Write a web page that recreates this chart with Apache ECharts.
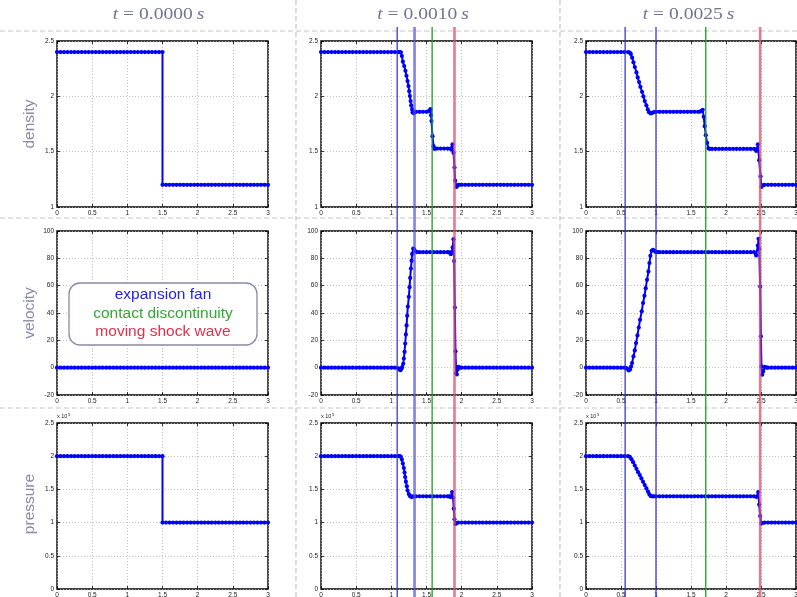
<!DOCTYPE html>
<html>
<head>
<meta charset="utf-8">
<script src="https://cdn.jsdelivr.net/npm/echarts@6/dist/echarts.min.js"></script>
<style>
html,body{margin:0;padding:0;background:#fff;}
#chart{width:797px;height:597px;}
</style>
</head>
<body>
<div id="chart"></div>
<script>
// ---------------- data: shock tube solution snapshots ----------------
const timeLabels = ['0.0000', '0.0010', '0.0025'];
const rowNames = ['density', 'velocity', 'pressure'];
const legendLines = ['expansion fan', 'contact discontinuity', 'moving shock wave'];

const xTicks = [0, 0.5, 1, 1.5, 2, 2.5, 3];
const densityTicks = [1, 1.5, 2, 2.5];
const velocityTicks = [-20, 0, 20, 40, 60, 80, 100];
const pressureTicks = [0, 0.5, 1, 1.5, 2, 2.5]; // units of 10^5

// wave positions: [fan head, fan tail, contact, shock]
const waves_t0010 = [1.083, 1.330, 1.580, 1.898];
const waves_t0025 = [0.559, 1.000, 1.711, 2.488];

const density_t0000 = [
  [0,2.4],[0.05,2.4],[0.1,2.4],[0.15,2.4],[0.2,2.4],[0.25,2.4],[0.3,2.4],[0.35,2.4],[0.4,2.4],[0.45,2.4],
  [0.5,2.4],[0.55,2.4],[0.6,2.4],[0.65,2.4],[0.7,2.4],[0.75,2.4],[0.8,2.4],[0.85,2.4],[0.9,2.4],[0.95,2.4],
  [1,2.4],[1.05,2.4],[1.1,2.4],[1.15,2.4],[1.2,2.4],[1.25,2.4],[1.3,2.4],[1.35,2.4],[1.4,2.4],[1.45,2.4],[1.5,2.4],
  [1.5,1.2],[1.55,1.2],[1.6,1.2],[1.65,1.2],[1.7,1.2],[1.75,1.2],[1.8,1.2],[1.85,1.2],[1.9,1.2],[1.95,1.2],
  [2,1.2],[2.05,1.2],[2.1,1.2],[2.15,1.2],[2.2,1.2],[2.25,1.2],[2.3,1.2],[2.35,1.2],[2.4,1.2],[2.45,1.2],
  [2.5,1.2],[2.55,1.2],[2.6,1.2],[2.65,1.2],[2.7,1.2],[2.75,1.2],[2.8,1.2],[2.85,1.2],[2.9,1.2],[2.95,1.2],[3,1.2]
];
const velocity_t0000 = [
  [0,0],[0.05,0],[0.1,0],[0.15,0],[0.2,0],[0.25,0],[0.3,0],[0.35,0],[0.4,0],[0.45,0],
  [0.5,0],[0.55,0],[0.6,0],[0.65,0],[0.7,0],[0.75,0],[0.8,0],[0.85,0],[0.9,0],[0.95,0],
  [1,0],[1.05,0],[1.1,0],[1.15,0],[1.2,0],[1.25,0],[1.3,0],[1.35,0],[1.4,0],[1.45,0],
  [1.5,0],[1.55,0],[1.6,0],[1.65,0],[1.7,0],[1.75,0],[1.8,0],[1.85,0],[1.9,0],[1.95,0],
  [2,0],[2.05,0],[2.1,0],[2.15,0],[2.2,0],[2.25,0],[2.3,0],[2.35,0],[2.4,0],[2.45,0],
  [2.5,0],[2.55,0],[2.6,0],[2.65,0],[2.7,0],[2.75,0],[2.8,0],[2.85,0],[2.9,0],[2.95,0],[3,0]
];
const pressure_t0000 = [
  [0,2],[0.05,2],[0.1,2],[0.15,2],[0.2,2],[0.25,2],[0.3,2],[0.35,2],[0.4,2],[0.45,2],
  [0.5,2],[0.55,2],[0.6,2],[0.65,2],[0.7,2],[0.75,2],[0.8,2],[0.85,2],[0.9,2],[0.95,2],
  [1,2],[1.05,2],[1.1,2],[1.15,2],[1.2,2],[1.25,2],[1.3,2],[1.35,2],[1.4,2],[1.45,2],[1.5,2],
  [1.5,1],[1.55,1],[1.6,1],[1.65,1],[1.7,1],[1.75,1],[1.8,1],[1.85,1],[1.9,1],[1.95,1],
  [2,1],[2.05,1],[2.1,1],[2.15,1],[2.2,1],[2.25,1],[2.3,1],[2.35,1],[2.4,1],[2.45,1],
  [2.5,1],[2.55,1],[2.6,1],[2.65,1],[2.7,1],[2.75,1],[2.8,1],[2.85,1],[2.9,1],[2.95,1],[3,1]
];

const density_t0010 = [
  [0,2.4],[0.05,2.4],[0.1,2.4],[0.15,2.4],[0.2,2.4],[0.25,2.4],[0.3,2.4],[0.35,2.4],[0.4,2.4],[0.45,2.4],
  [0.5,2.4],[0.55,2.4],[0.6,2.4],[0.65,2.4],[0.7,2.4],[0.75,2.4],[0.8,2.4],[0.85,2.4],[0.9,2.4],[0.95,2.4],
  [1,2.4],[1.05,2.4],[1.1,2.4],
  [1.12,2.4],[1.136,2.398],[1.15,2.364],[1.164,2.313],[1.183,2.274],[1.201,2.231],[1.215,2.186],[1.23,2.138],
  [1.244,2.093],[1.254,2.047],[1.264,2.002],[1.274,1.957],[1.282,1.918],[1.296,1.882],[1.302,1.855],[1.32,1.848],[1.335,1.858],
  [1.35,1.86],[1.4,1.86],[1.45,1.86],[1.5,1.86],[1.53,1.865],[1.545,1.874],[1.557,1.884],
  [1.565,1.83],[1.571,1.776],[1.585,1.64],[1.6,1.55],[1.614,1.525],
  [1.65,1.528],[1.7,1.528],[1.75,1.528],[1.8,1.528],[1.84,1.526],[1.856,1.519],[1.87,1.565],
  [1.884,1.49],[1.898,1.357],[1.907,1.239],[1.927,1.181],[1.945,1.196],
  [1.96,1.2],[2,1.2],[2.05,1.2],[2.1,1.2],[2.15,1.2],[2.2,1.2],[2.25,1.2],[2.3,1.2],[2.35,1.2],[2.4,1.2],[2.45,1.2],
  [2.5,1.2],[2.55,1.2],[2.6,1.2],[2.65,1.2],[2.7,1.2],[2.75,1.2],[2.8,1.2],[2.85,1.2],[2.9,1.2],[2.95,1.2],[3,1.2]
];
const velocity_t0010 = [
  [0,0],[0.05,0],[0.1,0],[0.15,0],[0.2,0],[0.25,0],[0.3,0],[0.35,0],[0.4,0],[0.45,0],
  [0.5,0],[0.55,0],[0.6,0],[0.65,0],[0.7,0],[0.75,0],[0.8,0],[0.85,0],[0.9,0],[0.95,0],
  [1,0],[1.05,0],
  [1.1,-0.5],[1.115,-1.3],[1.13,-1.8],[1.145,-0.6],[1.154,0.4],[1.169,2.8],[1.178,6.7],[1.188,11.6],[1.197,17.7],
  [1.207,24.3],[1.217,30.9],[1.225,38],[1.235,44.7],[1.249,51.8],[1.259,58.9],[1.268,65.7],[1.278,72.5],[1.288,78.3],
  [1.296,83.2],[1.311,87.1],[1.325,86.6],[1.339,85.2],[1.36,84.6],
  [1.4,84.5],[1.45,84.5],[1.5,84.5],[1.55,84.5],[1.6,84.5],[1.65,84.5],[1.7,84.5],[1.75,84.5],[1.8,84.5],
  [1.83,84.3],[1.846,83],[1.862,84.5],[1.872,88],[1.884,94],[1.893,78],[1.903,44],[1.912,12],[1.922,-4],[1.931,-5],
  [1.942,-1.5],[1.955,0.6],[1.97,0],
  [2,0],[2.05,0],[2.1,0],[2.15,0],[2.2,0],[2.25,0],[2.3,0],[2.35,0],[2.4,0],[2.45,0],
  [2.5,0],[2.55,0],[2.6,0],[2.65,0],[2.7,0],[2.75,0],[2.8,0],[2.85,0],[2.9,0],[2.95,0],[3,0]
];
const pressure_t0010 = [
  [0,2],[0.05,2],[0.1,2],[0.15,2],[0.2,2],[0.25,2],[0.3,2],[0.35,2],[0.4,2],[0.45,2],
  [0.5,2],[0.55,2],[0.6,2],[0.65,2],[0.7,2],[0.75,2],[0.8,2],[0.85,2],[0.9,2],[0.95,2],
  [1,2],[1.05,2],[1.1,2],
  [1.122,2],[1.136,1.99],[1.15,1.949],[1.164,1.889],[1.178,1.822],[1.188,1.753],[1.197,1.687],[1.207,1.617],
  [1.221,1.547],[1.231,1.482],[1.249,1.431],[1.262,1.405],[1.274,1.392],[1.292,1.386],[1.31,1.394],
  [1.35,1.395],[1.4,1.395],[1.45,1.395],[1.5,1.395],[1.55,1.395],[1.6,1.395],[1.65,1.395],[1.7,1.395],[1.75,1.395],[1.8,1.395],
  [1.825,1.394],[1.842,1.386],[1.864,1.461],[1.878,1.377],[1.888,1.21],[1.898,1.05],[1.912,0.979],[1.927,0.994],[1.95,1],
  [2,1],[2.05,1],[2.1,1],[2.15,1],[2.2,1],[2.25,1],[2.3,1],[2.35,1],[2.4,1],[2.45,1],
  [2.5,1],[2.55,1],[2.6,1],[2.65,1],[2.7,1],[2.75,1],[2.8,1],[2.85,1],[2.9,1],[2.95,1],[3,1]
];

const density_t0025 = [
  [0,2.4],[0.05,2.4],[0.1,2.4],[0.15,2.4],[0.2,2.4],[0.25,2.4],[0.3,2.4],[0.35,2.4],[0.4,2.4],[0.45,2.4],
  [0.5,2.4],[0.55,2.4],[0.6,2.4],
  [0.625,2.395],[0.64,2.383],[0.659,2.349],[0.678,2.307],[0.697,2.265],[0.721,2.216],[0.739,2.171],[0.758,2.129],
  [0.777,2.086],[0.801,2.041],[0.82,1.999],[0.839,1.957],[0.863,1.918],[0.882,1.882],[0.9,1.857],[0.924,1.845],
  [0.948,1.851],[0.97,1.858],
  [1,1.86],[1.05,1.86],[1.1,1.86],[1.15,1.86],[1.2,1.86],[1.25,1.86],[1.3,1.86],[1.35,1.86],[1.4,1.86],[1.45,1.86],
  [1.5,1.86],[1.55,1.86],[1.6,1.86],[1.63,1.862],[1.65,1.868],[1.668,1.878],
  [1.682,1.815],[1.696,1.73],[1.711,1.649],[1.73,1.58],[1.749,1.529],[1.77,1.525],
  [1.8,1.525],[1.85,1.525],[1.9,1.525],[1.95,1.525],[2,1.525],[2.05,1.525],[2.1,1.525],[2.15,1.525],[2.2,1.525],
  [2.25,1.525],[2.3,1.525],[2.35,1.525],[2.4,1.525],[2.42,1.522],
  [2.432,1.507],[2.456,1.567],[2.474,1.423],[2.493,1.278],[2.507,1.181],[2.531,1.199],[2.55,1.2],
  [2.6,1.2],[2.65,1.2],[2.7,1.2],[2.75,1.2],[2.8,1.2],[2.85,1.2],[2.9,1.2],[2.95,1.2],[3,1.2]
];
const velocity_t0025 = [
  [0,0],[0.05,0],[0.1,0],[0.15,0],[0.2,0],[0.25,0],[0.3,0],[0.35,0],[0.4,0],[0.45,0],
  [0.5,0],[0.55,0],
  [0.575,-0.3],[0.59,-0.8],[0.611,-2],[0.63,-1.3],[0.644,0.8],[0.658,3.4],[0.678,8.2],[0.697,12.6],[0.715,18],
  [0.735,23.6],[0.754,29.4],[0.772,35],[0.796,41.2],[0.815,47.3],[0.835,52.6],[0.853,58.2],[0.872,64.3],[0.892,70.4],
  [0.906,76.5],[0.92,81.8],[0.938,85.5],[0.957,86.2],[0.977,85.5],[0.995,84.7],[1.02,84.5],
  [1.05,84.5],[1.1,84.5],[1.15,84.5],[1.2,84.5],[1.25,84.5],[1.3,84.5],[1.35,84.5],[1.4,84.5],[1.45,84.5],[1.5,84.5],
  [1.55,84.5],[1.6,84.5],[1.65,84.5],[1.7,84.5],[1.75,84.5],[1.8,84.5],[1.85,84.5],[1.9,84.5],[1.95,84.5],[2,84.5],
  [2.05,84.5],[2.1,84.5],[2.15,84.5],[2.2,84.5],[2.25,84.5],[2.3,84.5],[2.35,84.5],[2.4,84.5],
  [2.431,82.1],[2.455,89.4],[2.465,94.3],[2.475,87],[2.488,59.4],[2.498,22.9],[2.507,0.9],[2.517,-5.2],[2.531,-2.8],
  [2.555,0.6],[2.58,0],
  [2.6,0],[2.65,0],[2.7,0],[2.75,0],[2.8,0],[2.85,0],[2.9,0],[2.95,0],[3,0]
];
const pressure_t0025 = [
  [0,2],[0.05,2],[0.1,2],[0.15,2],[0.2,2],[0.25,2],[0.3,2],[0.35,2],[0.4,2],[0.45,2],
  [0.5,2],[0.55,2],[0.6,2],
  [0.626,1.99],[0.65,1.955],[0.673,1.91],[0.697,1.86],[0.721,1.81],[0.744,1.76],[0.768,1.715],[0.792,1.665],
  [0.815,1.615],[0.839,1.565],[0.863,1.515],[0.886,1.465],[0.906,1.425],[0.924,1.4],[0.948,1.395],[0.97,1.395],
  [1,1.395],[1.05,1.395],[1.1,1.395],[1.15,1.395],[1.2,1.395],[1.25,1.395],[1.3,1.395],[1.35,1.395],[1.4,1.395],
  [1.45,1.395],[1.5,1.395],[1.55,1.395],[1.6,1.395],[1.65,1.395],[1.7,1.395],[1.75,1.395],[1.8,1.395],[1.85,1.395],
  [1.9,1.395],[1.95,1.395],[2,1.395],[2.05,1.395],[2.1,1.395],[2.15,1.395],[2.2,1.395],[2.25,1.395],[2.3,1.395],
  [2.35,1.395],[2.4,1.395],
  [2.436,1.386],[2.46,1.461],[2.474,1.271],[2.488,1.099],[2.503,0.985],[2.522,0.994],[2.55,1],
  [2.6,1],[2.65,1],[2.7,1],[2.75,1],[2.8,1],[2.85,1],[2.9,1],[2.95,1],[3,1]
];

// ---------------- layout ----------------
const colLeft = [57, 321, 586];
const colWidth = [211, 211, 210];
const rowTop = [41, 231, 423];
const rowHeight = [166, 164, 166];
const titleCenterX = [158.5, 423, 688.5];

const rows = [
  { ticks: densityTicks,  data: [density_t0000, density_t0010, density_t0025] },
  { ticks: velocityTicks, data: [velocity_t0000, velocity_t0010, velocity_t0025] },
  { ticks: pressureTicks, data: [pressure_t0000, pressure_t0010, pressure_t0025], scaleNote: true }
];

// line styles for the wave markers of each snapshot
const waveSets = [
  { col: 1, xs: waves_t0010, styles: [
    { color: '#2a2ac6', width: 1.2 },
    { color: 'rgba(80,80,215,0.72)', width: 2.6 },
    { color: '#1f9e1f', width: 1.3 },
    { color: 'rgba(222,78,108,0.75)', width: 2.6 } ] },
  { col: 2, xs: waves_t0025, styles: [
    { color: '#2a2ac6', width: 1.2 },
    { color: '#2a2ac6', width: 1.2 },
    { color: '#1f9e1f', width: 1.3 },
    { color: 'rgba(222,78,108,0.75)', width: 2.6 } ] }
];

const labelFont = 'Liberation Sans';
const tickLabel = { fontSize: 6.5, color: '#222', fontFamily: labelFont, margin: 3 };
const tickStyle = { inside: true, length: 3, lineStyle: { color: '#000', width: 0.8 } };
const gridLineStyle = { color: '#b4b4b4', width: 0.8, type: [1, 2] };
const noLine = { show: false, onZero: false };

function valueAxis(ticks) {
  return { type: 'value', min: ticks[0], max: ticks[ticks.length - 1], interval: ticks[1] - ticks[0] };
}

const grid = [], xAxis = [], yAxis = [], series = [];

rows.forEach((row, r) => {
  for (let c = 0; c < 3; c++) {
    const gi = grid.length;
    grid.push({
      left: colLeft[c], top: rowTop[r], width: colWidth[c], height: rowHeight[r],
      show: true, borderColor: '#000', borderWidth: 1.4, containLabel: false, outerBoundsMode: 'none'
    });
    xAxis.push(Object.assign(valueAxis(xTicks), {
      gridIndex: gi, position: 'bottom', axisLine: noLine, axisTick: tickStyle,
      axisLabel: tickLabel, splitLine: { show: true, lineStyle: gridLineStyle }
    }));
    xAxis.push(Object.assign(valueAxis(xTicks), {
      gridIndex: gi, position: 'top', axisLine: noLine, axisTick: tickStyle,
      axisLabel: { show: false }, splitLine: { show: false }
    }));
    const yMain = Object.assign(valueAxis(row.ticks), {
      gridIndex: gi, position: 'left', axisLine: noLine, axisTick: tickStyle,
      axisLabel: tickLabel, splitLine: { show: true, lineStyle: gridLineStyle }
    });
    if (row.scaleNote) {
      yMain.name = '{a|x 10}{b|5}';
      yMain.nameLocation = 'end';
      yMain.nameGap = 2;
      yMain.nameTextStyle = {
        align: 'left', verticalAlign: 'bottom', color: '#222', fontFamily: labelFont,
        rich: { a: { fontSize: 5.5, color: '#222', verticalAlign: 'bottom' },
                b: { fontSize: 4.2, color: '#222', verticalAlign: 'top', padding: [0, 0, 3, 0.5] } }
      };
    }
    yAxis.push(yMain);
    yAxis.push(Object.assign(valueAxis(row.ticks), {
      gridIndex: gi, position: 'right', axisLine: noLine, axisTick: tickStyle,
      axisLabel: { show: false }, splitLine: { show: false }
    }));
    series.push({
      type: 'line', xAxisIndex: 2 * gi, yAxisIndex: 2 * gi, data: row.data[c],
      symbol: 'circle', symbolSize: 4.2, showSymbol: true,
      lineStyle: { color: '#0000ff', width: 2 }, itemStyle: { color: '#0000ff' },
      silent: true, z: 3
    });
  }
});

// full-height overlay coordinate systems for the wave position markers
waveSets.forEach(set => {
  const gi = grid.length;
  grid.push({ left: colLeft[set.col], top: 27, width: colWidth[set.col], height: 570, show: false,
              containLabel: false, outerBoundsMode: 'none' });
  xAxis.push(Object.assign(valueAxis(xTicks), { gridIndex: gi, show: false }));
  xAxis.push(Object.assign(valueAxis(xTicks), { gridIndex: gi, show: false }));
  yAxis.push({ type: 'value', min: 0, max: 1, gridIndex: gi, show: false });
  yAxis.push({ type: 'value', min: 0, max: 1, gridIndex: gi, show: false });
  set.xs.forEach((x, k) => {
    series.push({
      type: 'line', xAxisIndex: 2 * gi, yAxisIndex: 2 * gi, data: [[x, 0], [x, 1]],
      symbol: 'none', lineStyle: set.styles[k], silent: true, z: 10
    });
  });
});

// decorations: separators, titles, row labels, legend box
const sepStyle = { stroke: '#c6c6c6', lineWidth: 1.2, lineDash: [5, 3] };
const graphic = [];
[31, 218, 408].forEach(y => graphic.push({ type: 'line', z: 1, shape: { x1: 0, y1: y, x2: 797, y2: y }, style: sepStyle }));
[296, 560].forEach(x => graphic.push({ type: 'line', z: 1, shape: { x1: x, y1: 0, x2: x, y2: 597 }, style: sepStyle }));

timeLabels.forEach((t, c) => {
  graphic.push({
    type: 'text', x: titleCenterX[c], y: 15, scaleX: 1.15, z: 5,
    style: {
      text: '{i|t} = ' + t + '\u2009{i|s}', fontSize: 17, fontFamily: 'Liberation Serif',
      fill: '#74748f', align: 'center', verticalAlign: 'middle',
      rich: { i: { fontStyle: 'italic', fontSize: 17, fontFamily: 'Liberation Serif', fill: '#74748f', color: '#74748f' } }
    }
  });
});

const rowLabelY = [124, 313, 504];
rowNames.forEach((name, r) => {
  graphic.push({
    type: 'text', x: 30, y: rowLabelY[r], rotation: Math.PI / 2, z: 5,
    style: { text: name, fontSize: 15.5, fontFamily: labelFont, fill: '#8a8aa8', align: 'center', verticalAlign: 'middle' }
  });
});

graphic.push({
  type: 'rect', z: 50, shape: { x: 69, y: 283, width: 188, height: 62, r: 11 },
  style: { fill: '#fff', stroke: '#8a8aa6', lineWidth: 1.3 }
});
const legendColors = ['#2424e0', '#35a535', '#e0304c'];
legendLines.forEach((txt, k) => {
  graphic.push({
    type: 'text', z: 51, x: 163, y: 295 + k * 18.5,
    style: { text: txt, fontSize: 15.5, fontFamily: labelFont, fill: legendColors[k], align: 'center', verticalAlign: 'middle' }
  });
});

const chart = echarts.init(document.getElementById('chart'), null, { renderer: 'canvas', width: 797, height: 597 });
chart.setOption({
  animation: false,
  backgroundColor: '#fff',
  grid, xAxis, yAxis, series, graphic
});
</script>
</body>
</html>
